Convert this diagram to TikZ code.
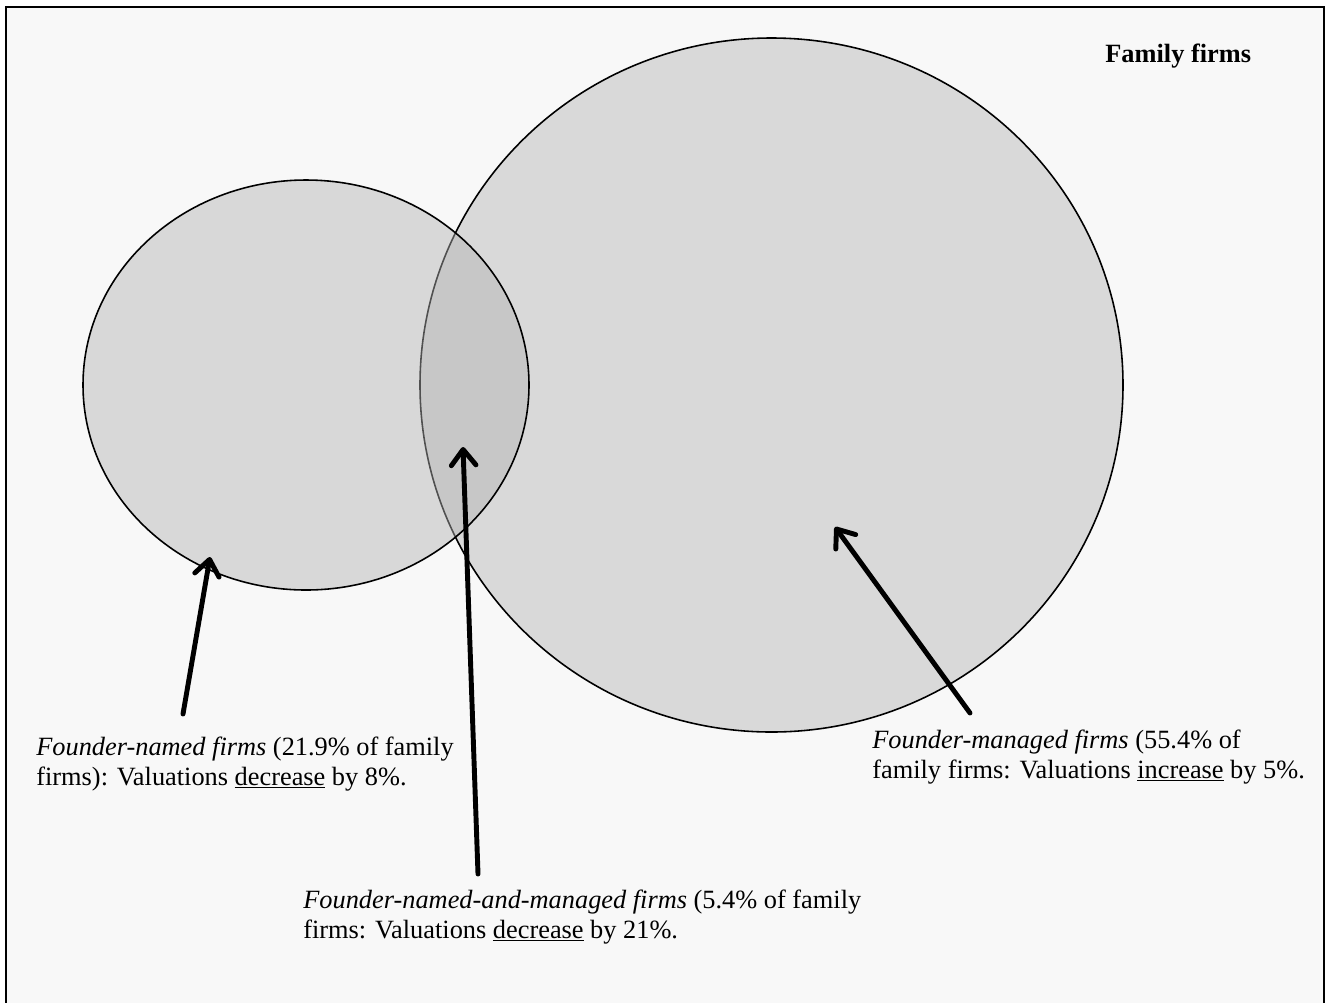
\documentclass[tikz,border=0pt]{standalone}
\usepackage{fontspec}
\setmainfont{Liberation Serif}
\usetikzlibrary{arrows.meta}
\definecolor{panelgray}{RGB}{248,248,248}
\definecolor{setgray}{RGB}{217,217,217}
\definecolor{overgray}{RGB}{179,179,179}

\begin{document}
\begin{tikzpicture}[x=0.02cm, y=-0.02cm,
    lbl/.style={anchor=base west, align=left, inner sep=0pt,
      font=\fontsize{15}{17}\selectfont},
    pointer/.style={line width=2.8pt, line cap=round,
      -{Straight Barb[length=9pt, width=14pt, line cap=round, line join=round]}}]
  \useasboundingbox (0,0) rectangle (1328,1002);

  % panel
  \draw [line width=1.2pt, fill=panelgray] (6,7) rectangle (1324,1010);
  \node [anchor=base west, inner sep=0pt, font=\fontsize{15}{17}\selectfont\bfseries]
    (title) at (1105,62) {Family firms};

  % the two sets
  \draw [line width=0.9pt, fill=setgray] (771.5,385) ellipse [x radius=351.5, y radius=347];
  \draw [line width=0.9pt, fill=overgray, fill opacity=0.45] (306,385) ellipse [x radius=223, y radius=205];

  % labels (anchored on the last line)
  \node [lbl] (named) at (36,785) {\textit{Founder-named firms} (21.9\% of family\\
    firms): Valuations \underline{decrease} by 8\%.};
  \node [lbl] (both) at (303,938) {\textit{Founder-named-and-managed firms} (5.4\% of family\\
    firms: Valuations \underline{decrease} by 21\%.};
  \node [lbl] (managed) at (872,778) {\textit{Founder-managed firms} (55.4\% of\\
    family firms: Valuations \underline{increase} by 5\%.};

  % arrows
  \coordinate (namedtail) at (183,714);
  \coordinate (namedtip) at (210,557);
  \coordinate (bothtail) at (478,874);
  \coordinate (bothtip) at (463,447);
  \coordinate (managedtail) at (970,713);
  \coordinate (managedtip) at (835,527);
  \draw [pointer] (namedtail) -- (namedtip);
  \draw [pointer] (bothtail) -- (bothtip);
  \draw [pointer] (managedtail) -- (managedtip);
\end{tikzpicture}
\end{document}
